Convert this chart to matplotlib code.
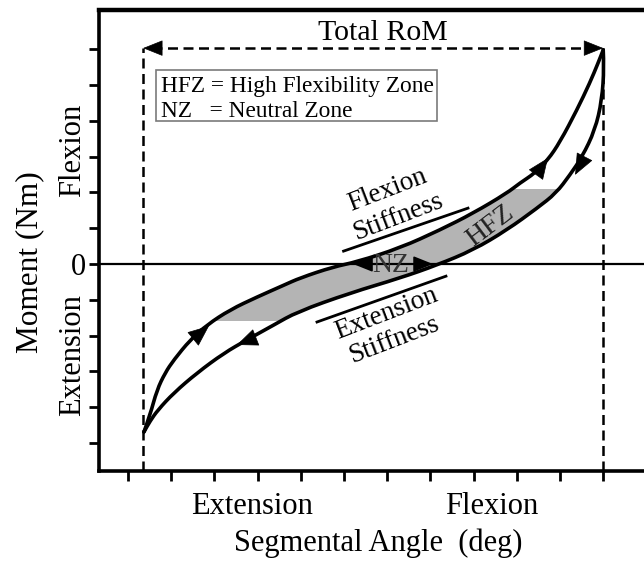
import matplotlib
matplotlib.use('Agg')
import matplotlib.pyplot as plt
from matplotlib.patches import Rectangle, PathPatch
from matplotlib.path import Path

plt.rcParams['font.family'] = ['Liberation Serif', 'DejaVu Serif']

# ---- data (angle in tick units, moment in tick units) ----
load_angle = [0.37, 0.51, 0.67, 0.86, 1.06, 1.44, 1.83, 2.36, 2.99, 3.61, 3.98,
              4.75, 5.30, 6.30, 7.22, 7.99, 8.77, 9.07, 9.42, 9.72, 10.00,
              10.39, 10.69, 10.88, 11.00]
load_moment = [-4.69, -4.22, -3.52, -3.04, -2.68, -2.12, -1.70, -1.28, -0.92,
               -0.59, -0.39, -0.08, 0.06, 0.45, 0.95, 1.42, 1.98, 2.26, 2.54,
               2.91, 3.41, 4.30, 5.06, 5.61, 5.98]
unload_angle = [11.00, 11.02, 10.97, 10.81, 10.51, 10.23, 9.91, 9.47, 8.77,
                7.99, 7.15, 6.30, 5.14, 3.91, 3.38, 2.75, 2.22, 1.60, 1.06,
                0.69, 0.51, 0.37]
unload_moment = [5.98, 5.50, 4.58, 3.74, 2.99, 2.49, 1.98, 1.56, 0.95, 0.39,
                 -0.03, -0.39, -0.81, -1.34, -1.70, -2.12, -2.49, -3.04, -3.60,
                 -4.08, -4.39, -4.69]
rom_min, rom_max = 0.35, 11.0
rom_level = 6.03
hfz_low, hfz_high = -1.59, 2.09
nz_left, nz_right = 5.21, 7.06
angle_ticks = list(range(12))
moment_ticks = list(range(-5, 7))
flex_stiff_line = ([4.99, 7.87], [0.36, 1.56])
ext_stiff_line = ([4.375, 7.36], [-1.62, -0.34])
# arrowheads: (tail, tip)
load_arrows = [((1.53, -2.07), (1.875, -1.73)), ((9.47, 2.54), (9.72, 2.96))]
unload_arrows = [((10.53, 2.91), (10.35, 2.49)), ((2.92, -2.07), (2.52, -2.26))]

W, H = 644, 563
fig = plt.figure(figsize=(W / 100, H / 100), dpi=100)
ax = fig.add_axes([99 / W, (H - 471) / H, (W - 99) / W, (471 - 10) / H])
ax.set_xlim(-0.671, 11.944)
ax.set_ylim(-5.782, 7.095)


def px(x, y):
    return x / W, 1 - y / H


def smooth_path(xs, ys, closed=False):
    """Quadratic-Bezier rendering through the midpoints of the read points."""
    verts = [(xs[0], ys[0])]
    codes = [Path.MOVETO]
    for i in range(1, len(xs) - 1):
        verts += [(xs[i], ys[i]), ((xs[i] + xs[i + 1]) / 2, (ys[i] + ys[i + 1]) / 2)]
        codes += [Path.CURVE3, Path.CURVE3]
    verts.append((xs[-1], ys[-1]))
    codes.append(Path.LINETO)
    if closed:
        verts.append((xs[0], ys[0]))
        codes.append(Path.CLOSEPOLY)
    return Path(verts, codes)


# spines
for s in ['left', 'bottom']:
    ax.spines[s].set_linewidth(2.6)
ax.spines['top'].set_linewidth(3.2)
ax.spines['right'].set_visible(False)

ax.set_xticks(angle_ticks)
ax.set_xticklabels([''] * len(angle_ticks))
ax.set_yticks(moment_ticks)
ax.set_yticklabels(['0' if v == 0 else '' for v in moment_ticks], fontsize=22)
ax.tick_params(axis='both', direction='out', length=7.5, width=2.0, pad=2)

# zero line
ax.axhline(0, color='black', lw=1.6, zorder=2)

# HFZ fill (between loading and unloading branches, clipped to HFZ band)
loop = smooth_path(load_angle + unload_angle[1:], load_moment + unload_moment[1:],
                   closed=True)
fill = PathPatch(loop, facecolor='#b4b4b4', edgecolor='none', zorder=1)
ax.add_patch(fill)
clip = Rectangle((-1, hfz_low), 14, hfz_high - hfz_low, transform=ax.transData)
fill.set_clip_path(clip)

# curves
for xs, ys in [(load_angle, load_moment), (unload_angle, unload_moment)]:
    ax.add_patch(PathPatch(smooth_path(xs, ys), facecolor='none', edgecolor='black',
                           lw=2.6, zorder=3, capstyle='round', joinstyle='round'))

for tail, tip in load_arrows + unload_arrows:
    ax.annotate('', xy=tip, xytext=tail,
                arrowprops=dict(arrowstyle='-|>,head_length=1.0,head_width=0.42',
                                mutation_scale=14, color='black', lw=0.5,
                                shrinkA=0, shrinkB=0), zorder=4)

# dashed range lines
ls = (0, (4, 2.2))
ax.plot([rom_min, rom_min], [-5.782, rom_level], color='black', lw=1.8, ls=ls, zorder=2)
ax.plot([rom_max, rom_max], [-5.782, rom_level], color='black', lw=1.8, ls=ls, zorder=2)
ax.plot([rom_min + 0.2, rom_max - 0.2], [rom_level, rom_level], color='black', lw=1.8,
        ls=ls, zorder=2)
for tail, tip in [((rom_min + 0.4, rom_level), (rom_min, rom_level)),
                  ((rom_max - 0.4, rom_level), (rom_max, rom_level))]:
    ax.annotate('', xy=tip, xytext=tail,
                arrowprops=dict(arrowstyle='-|>,head_length=1.0,head_width=0.4',
                                mutation_scale=13, color='black', lw=0.5,
                                shrinkA=0, shrinkB=0))

fig.text(*px(383, 33), 'Total RoM', fontsize=21.5, ha='center', va='center')

# legend box
ax.add_patch(Rectangle((0.65, 3.99), 6.50, 1.43, facecolor='white',
                       edgecolor='#7a7a7a', lw=1.2, zorder=2))
fig.text(*px(161, 92), 'HFZ = High Flexibility Zone', fontsize=16.8,
         ha='left', va='baseline')
fig.text(*px(161, 117), 'NZ   = Neutral Zone', fontsize=16.8,
         ha='left', va='baseline')

# stiffness lines
ax.plot(*flex_stiff_line, color='black', lw=2.0, zorder=3)
ax.plot(*ext_stiff_line, color='black', lw=2.0, zorder=3)
fig.text(*px(388, 190), 'Flexion', fontsize=19.5, rotation=21, ha='center',
         va='center', rotation_mode='anchor')
fig.text(*px(398, 217), 'Stiffness', fontsize=19.5, rotation=21, ha='center',
         va='center', rotation_mode='anchor')
fig.text(*px(386, 314), 'Extension', fontsize=19.5, rotation=21, ha='center',
         va='center', rotation_mode='anchor')
fig.text(*px(394, 340), 'Stiffness', fontsize=19.5, rotation=21, ha='center',
         va='center', rotation_mode='anchor')
fig.text(*px(490, 226), 'HFZ', fontsize=20, rotation=37, ha='center',
         va='center', rotation_mode='anchor', color='#222222')

# NZ arrow
ax.annotate('', xy=(nz_right, 0), xytext=(nz_left, 0),
            arrowprops=dict(arrowstyle='<|-|>,head_length=1.0,head_width=0.4',
                            mutation_scale=12, color='black', lw=1.2,
                            shrinkA=0, shrinkB=0), zorder=4)
fig.text(*px(391, 266), 'NZ', fontsize=20, ha='center', va='center',
         color='#333333', zorder=5)

# axis labels
fig.text(*px(252, 507), 'Extension', fontsize=22, ha='center', va='center')
fig.text(*px(492, 507), 'Flexion', fontsize=22, ha='center', va='center')
fig.text(*px(378, 543), 'Segmental Angle  (deg)', fontsize=22, ha='center', va='center')
fig.text(*px(30, 262), 'Moment (Nm)', fontsize=22.5, rotation=90, ha='center', va='center')
fig.text(*px(73, 150), 'Flexion', fontsize=22, rotation=90, ha='center', va='center')
fig.text(*px(73, 355), 'Extension', fontsize=22, rotation=90, ha='center', va='center')

fig.savefig('out.png', dpi=100)
